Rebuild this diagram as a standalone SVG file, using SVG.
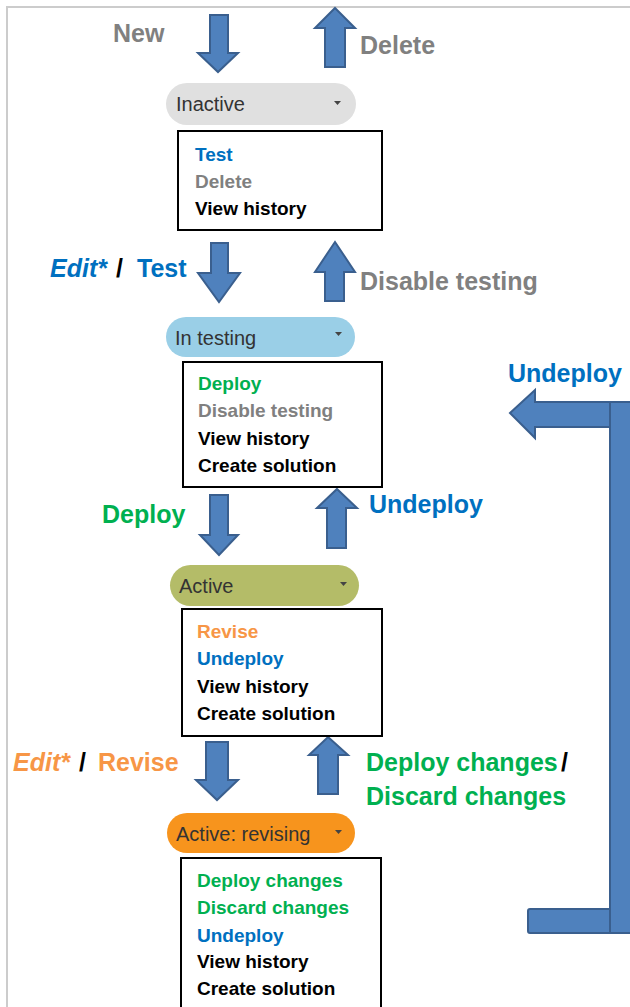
<svg xmlns="http://www.w3.org/2000/svg" width="630" height="1007" viewBox="0 0 630 1007">
<style>
.arr{fill:#4F81BD;stroke:#3A5F8E;stroke-width:2;stroke-linejoin:miter}
.lbl{font-family:"Liberation Sans",Arial,sans-serif;font-weight:bold;font-size:25px}
.pilltxt{font-family:"Liberation Sans",Arial,sans-serif;font-size:20px;fill:#333333}
.menu{font-family:"Liberation Sans",Arial,sans-serif;font-weight:bold;font-size:19px}
.box{fill:#ffffff;stroke:#000000;stroke-width:2}
.tri{fill:#444444}
.blue{fill:#0070C0}
.gray{fill:#808080}
.green{fill:#00B050}
.orange{fill:#F79646}
.black{fill:#000000}
.it{font-style:italic}
</style>
<rect x="0" y="0" width="630" height="1007" fill="#ffffff"/>
<path d="M7,1007 V7 H630" fill="none" stroke="#CCCCCC" stroke-width="2"/>

<g id="connectors">
  <polygon class="arr" points="210,15 228,15 228,53 238,53 218,72 198,53 210,53"/>
  <polygon class="arr" points="335,8 355,28 345,28 345,67 325,67 325,28 315,28"/>
  <polygon class="arr" points="211,243 228,243 228,273 240,273 219,302 198,273 211,273"/>
  <polygon class="arr" points="335,242 355,272 344,272 344,301 325,301 325,272 315,272"/>
  <polygon class="arr" points="210,495 228,495 228,535 238,535 219,555 200,535 210,535"/>
  <polygon class="arr" points="337,489 357,508 346,508 346,548 327,548 327,508 317,508"/>
  <polygon class="arr" points="206,742 228,742 228,780 238,780 217,800 196,780 206,780"/>
  <polygon class="arr" points="328,737 348,755 338,755 338,794 318,794 318,755 309,755"/>
  <rect class="arr" x="528" y="909" width="84" height="24" rx="2"/>
  <rect class="arr" x="610" y="402" width="30" height="531"/>
  <polygon class="arr" points="510,413 535,390 535,402 610,402 610,427 535,427 535,438"/>

  <text class="lbl gray" x="113" y="42">New</text>
  <text class="lbl gray" x="360" y="54">Delete</text>
  <text class="lbl" y="277"><tspan class="blue it" x="50">Edit*</tspan><tspan class="black" x="116">/</tspan><tspan class="blue" x="137">Test</tspan></text>
  <text class="lbl gray" x="360" y="290">Disable testing</text>
  <text class="lbl blue" x="508" y="382">Undeploy</text>
  <text class="lbl green" x="102" y="523">Deploy</text>
  <text class="lbl blue" x="369" y="513">Undeploy</text>
  <text class="lbl" y="771"><tspan class="orange it" x="13">Edit*</tspan><tspan class="black" x="79">/</tspan><tspan class="orange" x="98">Revise</tspan></text>
  <text class="lbl" y="771"><tspan class="green" x="366">Deploy changes</tspan><tspan class="black" x="561">/</tspan></text>
  <text class="lbl green" x="366" y="805">Discard changes</text>
</g>

<g id="inactive">
  <rect x="166" y="83" width="190" height="42" rx="21" fill="#E0E0E0"/>
  <text class="pilltxt" x="176" y="111">Inactive</text>
  <polygon class="tri" points="334,101 341,101 337.5,105"/>
  <rect class="box" x="178" y="131" width="204" height="99"/>
  <text class="menu blue" x="195" y="161">Test</text>
  <text class="menu gray" x="195" y="188">Delete</text>
  <text class="menu black" x="195" y="215">View history</text>
</g>

<g id="in-testing">
  <rect x="166" y="317" width="189" height="40" rx="20" fill="#9ACFE7"/>
  <text class="pilltxt" x="175" y="345">In testing</text>
  <polygon class="tri" points="335,332 342,332 338.5,336"/>
  <rect class="box" x="183" y="362" width="199" height="125"/>
  <text class="menu green" x="198" y="390">Deploy</text>
  <text class="menu gray" x="198" y="417">Disable testing</text>
  <text class="menu black" x="198" y="445">View history</text>
  <text class="menu black" x="198" y="472">Create solution</text>
</g>

<g id="active">
  <rect x="170" y="565" width="189" height="41" rx="20.5" fill="#B4BC68"/>
  <text class="pilltxt" x="179" y="593">Active</text>
  <polygon class="tri" points="340,582 347,582 343.5,586"/>
  <rect class="box" x="182" y="609" width="200" height="127"/>
  <text class="menu orange" x="197" y="638">Revise</text>
  <text class="menu blue" x="197" y="665">Undeploy</text>
  <text class="menu black" x="197" y="693">View history</text>
  <text class="menu black" x="197" y="720">Create solution</text>
</g>

<g id="active-revising">
  <rect x="167" y="813" width="188" height="40" rx="20" fill="#F7941D"/>
  <text class="pilltxt" x="176" y="841">Active: revising</text>
  <polygon class="tri" points="335,830 342,830 338.5,834"/>
  <rect class="box" x="181" y="858" width="200" height="160"/>
  <text class="menu green" x="197" y="887">Deploy changes</text>
  <text class="menu green" x="197" y="914">Discard changes</text>
  <text class="menu blue" x="197" y="942">Undeploy</text>
  <text class="menu black" x="197" y="968">View history</text>
  <text class="menu black" x="197" y="995">Create solution</text>
</g>
</svg>
